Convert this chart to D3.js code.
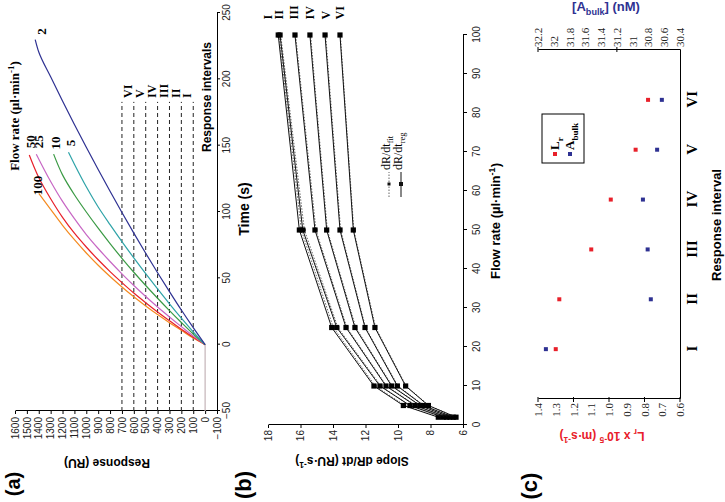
<!DOCTYPE html>
<html><head><meta charset="utf-8">
<script src="https://cdn.jsdelivr.net/npm/d3@7"></script>
<style>
html,body{margin:0;padding:0;background:#fff;}
svg{display:block;}
</style></head><body>
<svg id="chart" width="725" height="502"></svg>
<script>
// ===================== DATA =====================
// Panel (a): response curves (time s, response RU) per flow rate (µl/min)
const flowNamesA = ["100", "50", "25", "10", "5", "2"];
const flowColorsA = ["#f58a1f", "#e8202a", "#c766c4", "#3a9a44", "#2ea3a8", "#2e3192"];
const timeF100 = [0, 5, 10.8, 16.6, 22.7, 29.2, 36.1, 43.5, 51.4, 59.9, 69.1, 79.1, 90, 102, 114];
const respF100 = [0, 100, 200, 300, 400, 500, 600, 700, 800, 900, 1000, 1100, 1200, 1300, 1400];
const timeF50 = [0, 5.5, 11.7, 18.0, 24.6, 31.6, 38.9, 46.8, 55.1, 64.0, 73.6, 84, 96, 110, 126, 143];
const respF50 = [0, 100, 200, 300, 400, 500, 600, 700, 800, 900, 1000, 1100, 1200, 1300, 1400, 1480];
const timeF25 = [0, 6.5, 13.6, 20.9, 28.4, 36.3, 44.6, 53.4, 62.7, 72.5, 83, 95, 108, 123, 143.6];
const respF25 = [0, 100, 200, 300, 400, 500, 600, 700, 800, 900, 1000, 1100, 1200, 1300, 1421];
const timeF10 = [0, 8, 16.7, 25.7, 35.0, 44.6, 54.6, 65.1, 76.2, 87.8, 100, 113, 128, 143.6];
const respF10 = [0, 100, 200, 300, 400, 500, 600, 700, 800, 900, 1000, 1100, 1200, 1275];
const timeF5 = [0, 9.7, 20.0, 30.8, 42.0, 53.5, 65.4, 77.7, 90.5, 103.8, 119, 136, 145];
const respF5 = [0, 100, 200, 300, 400, 500, 600, 700, 800, 900, 1000, 1100, 1150];
const timeF2 = [0, 12.8, 26.1, 40.0, 54.2, 68.9, 84.1, 99.6, 115.6, 132, 148.8, 166, 183.7, 201.9, 220.6, 230];
const respF2 = [0, 100, 200, 300, 400, 500, 600, 700, 800, 900, 1000, 1100, 1200, 1300, 1400, 1430];
const baseTime = [-50, 0];
const baseResp = [0, 0];
// flow-rate label anchor points (time, response)
const flowLabelTime = [120, 153, 153, 152, 152, 236];
const flowLabelResp = [1415, 1474, 1406, 1263, 1137, 1381];
const timeTicksA = [-50, 0, 50, 100, 150, 200, 250];
const respTicksA = [-100, 0, 100, 200, 300, 400, 500, 600, 700, 800, 900, 1000, 1100, 1200, 1300, 1400, 1500, 1600];
const intervalLevels = [100, 200, 300, 400, 500, 600, 700];
const intervalMids = [150, 250, 350, 450, 550, 650];
const intervalNames = ["I", "II", "III", "IV", "V", "VI"];
const dashEndTime = 183;
const intervalLabelTime = 186;

// Panel (b): slope dR/dt (RU/s) vs flow rate, per response interval
const flowRatesB = [2, 5, 10, 25, 50, 100];
const slopeReg = [
  [7.52, 9.67, 11.48, 14.08, 16.07, 17.37],
  [7.22, 9.26, 11.11, 13.77, 15.86, 17.26],
  [7.00, 8.95, 10.74, 13.20, 15.11, 16.34],
  [6.80, 8.65, 10.39, 12.65, 14.39, 15.42],
  [6.60, 8.44, 10.04, 12.03, 13.57, 14.49],
  [6.43, 8.13, 9.53, 11.42, 12.75, 13.57]
];
const slopeFit = [
  [7.45, 9.58, 11.40, 13.98, 15.95, 17.32],
  [7.18, 9.30, 11.05, 13.70, 15.76, 17.22],
  [6.97, 8.90, 10.70, 13.15, 15.05, 16.30],
  [6.78, 8.62, 10.35, 12.60, 14.35, 15.38],
  [6.58, 8.40, 10.00, 12.00, 13.53, 14.45],
  [6.42, 8.10, 9.50, 11.38, 12.72, 13.55]
];
const flowTicksB = [0, 10, 20, 30, 40, 50, 60, 70, 80, 90, 100];
const slopeTicksB = [6, 8, 10, 12, 14, 16, 18];
const intervalLabelSlopeB = [18.0, 17.32, 16.4, 15.42, 14.43, 13.57];
const intervalLabelFlowB = 104;

// Panel (c): mass transport coefficient and bulk concentration per interval
const lrValues = [1.30, 1.28, 1.10, 0.99, 0.85, 0.78];
const abulkValues = [32.10, 30.77, 30.81, 30.87, 30.69, 30.63];
const lrTicks = [0.6, 0.7, 0.8, 0.9, 1.0, 1.1, 1.2, 1.3, 1.4];
const lrMajorTicks = [0.6, 0.8, 1.0, 1.2, 1.4];
const abulkTicks = [30.4, 30.6, 30.8, 31, 31.2, 31.4, 31.6, 31.8, 32, 32.2];
const abulkMajorTicks = [31.2, 32.2];

// ===================== DRAWING =====================
const SANS = "'Liberation Sans', Arial, sans-serif";
const SERIF = "'Liberation Serif', 'Times New Roman', serif";
const RED = "#e8202a", BLUE = "#2e3192";

const svg = d3.select("#chart");
// whole figure is rotated 90° counter-clockwise
const root = svg.append("g").attr("transform", "translate(0,502) rotate(-90)");

function rich(sel, parts, fs) {
  let off = 0;
  parts.forEach(p => {
    const target = p.sub ? fs * 0.28 : (p.sup ? -fs * 0.4 : 0);
    const ts = sel.append("tspan").text(p.t);
    if (p.sub || p.sup) ts.attr("font-size", fs * 0.7);
    if (target !== off) ts.attr("dy", target - off);
    off = target;
  });
  return sel;
}
function styleAxis(g, family, size, color) {
  g.attr("font-family", family).attr("font-size", size);
  g.selectAll("path.domain").attr("stroke", "#000").attr("stroke-width", 1);
  g.selectAll(".tick line").attr("stroke", "#000");
  g.selectAll("text").attr("fill", color || "#222");
}

// ---------- Panel (a) ----------
const gA = root.append("g");
const xA = d3.scaleLinear().domain([-50, 250]).range([91, 489]);
const yA = d3.scaleLinear().domain([-100, 1600]).range([217, 15]);

gA.append("g").attr("transform", "translate(0,217)")
  .call(d3.axisBottom(xA).tickValues(timeTicksA).tickFormat(d3.format("d")).tickSize(3).tickPadding(3).tickSizeOuter(0))
  .call(g => styleAxis(g, SANS, 10));
gA.append("g").attr("transform", "translate(91,0)")
  .call(d3.axisLeft(yA).tickValues(respTicksA).tickFormat(d3.format("d")).tickSize(3).tickPadding(3).tickSizeOuter(0))
  .call(g => styleAxis(g, SANS, 10));

gA.selectAll("line.dash").data(intervalLevels).join("line")
  .attr("x1", xA(-50)).attr("x2", xA(dashEndTime))
  .attr("y1", d => yA(d)).attr("y2", d => yA(d))
  .attr("stroke", "#222").attr("stroke-width", 1).attr("stroke-dasharray", "4,3");

const lineA = d3.line().x(d => xA(d[0])).y(d => yA(d[1])).curve(d3.curveMonotoneX);
gA.append("path").datum(d3.zip(baseTime, baseResp)).attr("d", lineA)
  .attr("fill", "none").attr("stroke", "#c4b4b8").attr("stroke-width", 1.2);
const curvesA = [
  d3.zip(timeF100, respF100), d3.zip(timeF50, respF50), d3.zip(timeF25, respF25),
  d3.zip(timeF10, respF10), d3.zip(timeF5, respF5), d3.zip(timeF2, respF2)
];
curvesA.forEach((c, i) => {
  gA.append("path").datum(c).attr("d", lineA).attr("fill", "none")
    .attr("stroke", flowColorsA[i]).attr("stroke-width", 1.2);
});
flowNamesA.forEach((n, i) => {
  gA.append("text").attr("x", xA(flowLabelTime[i])).attr("y", yA(flowLabelResp[i]))
    .attr("dy", "0.35em").attr("text-anchor", "middle")
    .attr("font-family", SERIF).attr("font-weight", "bold").attr("font-size", 13)
    .text(n);
});
intervalNames.forEach((n, i) => {
  gA.append("text").attr("x", xA(intervalLabelTime)).attr("y", yA(intervalMids[i]))
    .attr("dy", "0.35em").attr("text-anchor", "start")
    .attr("font-family", SERIF).attr("font-weight", "bold").attr("font-size", 12)
    .text(n);
});
rich(gA.append("text").attr("x", 386).attr("y", 19).attr("text-anchor", "middle")
  .attr("font-family", SERIF).attr("font-weight", "bold").attr("font-size", 13),
  [{t: "Flow rate (µl·min"}, {t: "-1", sup: true}, {t: ")"}], 13);
gA.append("text").attr("x", 405).attr("y", 211).attr("text-anchor", "middle")
  .attr("font-family", SANS).attr("font-weight", "bold").attr("font-size", 12)
  .text("Response intervals");
gA.append("text").attr("x", 293).attr("y", 249).attr("text-anchor", "middle")
  .attr("font-family", SANS).attr("font-weight", "bold").attr("font-size", 14)
  .text("Time (s)");
gA.append("text").attr("transform", "translate(43,107) rotate(-90)").attr("text-anchor", "middle")
  .attr("font-family", SANS).attr("font-weight", "bold").attr("font-size", 12)
  .text("Response (RU)");
gA.append("text").attr("x", 18).attr("y", 20).attr("text-anchor", "middle")
  .attr("font-family", SANS).attr("font-weight", "bold").attr("font-size", 20).text("(a)");

// ---------- Panel (b) ----------
const gB = root.append("g");
const xB = d3.scaleLinear().domain([0, 100]).range([77, 467]);
const yB = d3.scaleLinear().domain([6, 18]).range([463, 268]);
gB.append("g").attr("transform", "translate(0,463)")
  .call(d3.axisBottom(xB).tickValues(flowTicksB).tickSize(4).tickPadding(6).tickSizeOuter(0))
  .call(g => styleAxis(g, SANS, 10));
gB.append("g").attr("transform", "translate(77,0)")
  .call(d3.axisLeft(yB).tickValues(slopeTicksB).tickSize(3).tickPadding(2).tickSizeOuter(0))
  .call(g => styleAxis(g, SANS, 10));

const lineB = d3.line().x(d => xB(d[0])).y(d => yB(d[1]));
slopeFit.forEach(vals => {
  const pts = d3.zip(flowRatesB, vals);
  gB.append("path").datum(pts).attr("d", lineB).attr("fill", "none")
    .attr("stroke", "#666").attr("stroke-width", 1).attr("stroke-dasharray", "1.5,1.5");
  gB.selectAll(null).data(pts).join("rect")
    .attr("x", d => xB(d[0]) - 1.5).attr("y", d => yB(d[1]) - 1.5)
    .attr("width", 3).attr("height", 3).attr("fill", "#444");
});
slopeReg.forEach(vals => {
  const pts = d3.zip(flowRatesB, vals);
  gB.append("path").datum(pts).attr("d", lineB).attr("fill", "none")
    .attr("stroke", "#111").attr("stroke-width", 1);
  gB.selectAll(null).data(pts).join("rect")
    .attr("x", d => xB(d[0]) - 2.6).attr("y", d => yB(d[1]) - 2.6)
    .attr("width", 5.2).attr("height", 5.2).attr("fill", "#000");
});
intervalNames.forEach((n, i) => {
  gB.append("text").attr("x", xB(intervalLabelFlowB)).attr("y", yB(intervalLabelSlopeB[i]))
    .attr("dy", "0.35em").attr("text-anchor", "start")
    .attr("font-family", SERIF).attr("font-weight", "bold").attr("font-size", 12).text(n);
});
// legend (b)
[{y: 389, dash: "1.5,1.5", ms: 3, sub: "fit", col: "#666"}, {y: 401, dash: null, ms: 4, sub: "reg", col: "#111"}].forEach(l => {
  gB.append("line").attr("x1", 305).attr("x2", 330).attr("y1", l.y).attr("y2", l.y)
    .attr("stroke", l.col).attr("stroke-width", 1).attr("stroke-dasharray", l.dash);
  gB.append("rect").attr("x", 318 - l.ms / 2).attr("y", l.y - l.ms / 2)
    .attr("width", l.ms).attr("height", l.ms).attr("fill", "#111");
  rich(gB.append("text").attr("x", 332).attr("y", l.y + 1)
    .attr("font-family", SERIF).attr("font-size", 12),
    [{t: "dR/dt"}, {t: l.sub, sub: true}], 12);
});
rich(gB.append("text").attr("x", 281).attr("y", 500).attr("text-anchor", "middle")
  .attr("font-family", SANS).attr("font-weight", "bold").attr("font-size", 13),
  [{t: "Flow rate (µl·min"}, {t: "-1", sup: true}, {t: ")"}], 13);
rich(gB.append("text").attr("transform", "translate(45,352) rotate(-90)").attr("text-anchor", "middle")
  .attr("font-family", SANS).attr("font-weight", "bold").attr("font-size", 12),
  [{t: "Slope dR/dt (RU·s"}, {t: "-1", sup: true}, {t: ")"}], 12);
gB.append("text").attr("x", 17).attr("y", 251).attr("text-anchor", "middle")
  .attr("font-family", SANS).attr("font-weight", "bold").attr("font-size", 22).text("(b)");

// ---------- Panel (c) ----------
const gC = root.append("g");
const xC = d3.scalePoint().domain(intervalNames).range([103, 452]).padding(1);
const yL = d3.scaleLinear().domain([0.6, 1.4]).range([680, 538]);
const yAb = d3.scaleLinear().domain([30.4, 32.2]).range([680, 538]);

gC.append("g").attr("transform", "translate(0,680)")
  .call(d3.axisBottom(xC).tickSize(0).tickPadding(6).tickSizeOuter(0))
  .call(g => { styleAxis(g, SERIF, 15, "#000"); g.selectAll("text").attr("font-weight", "bold"); });
gC.append("g").attr("transform", "translate(103,0)")
  .call(d3.axisLeft(yL).tickValues(lrTicks).tickFormat(d3.format(".1f")).tickSize(0).tickPadding(4).tickSizeOuter(0))
  .call(g => styleAxis(g, SERIF, 11, "#222"));
gC.selectAll("line.lrtick").data(lrMajorTicks).join("line")
  .attr("x1", 100).attr("x2", 105).attr("y1", d => yL(d)).attr("y2", d => yL(d)).attr("stroke", "#000");
gC.append("g").attr("transform", "translate(452,0)")
  .call(d3.axisRight(yAb).tickValues(abulkTicks).tickFormat(d => String(d)).tickSize(0).tickPadding(3).tickSizeOuter(0))
  .call(g => styleAxis(g, SERIF, 11, "#222"));
gC.selectAll("line.abtick").data(abulkMajorTicks).join("line")
  .attr("x1", 450).attr("x2", 455).attr("y1", d => yAb(d)).attr("y2", d => yAb(d)).attr("stroke", "#000");

gC.selectAll("rect.lr").data(lrValues).join("rect")
  .attr("x", (d, i) => xC(intervalNames[i]) - 2).attr("y", d => yL(d) - 2)
  .attr("width", 4).attr("height", 4).attr("fill", RED);
gC.selectAll("rect.ab").data(abulkValues).join("rect")
  .attr("x", (d, i) => xC(intervalNames[i]) - 2).attr("y", d => yAb(d) - 2)
  .attr("width", 4).attr("height", 4).attr("fill", BLUE);

// legend (c)
gC.append("rect").attr("x", 339).attr("y", 542).attr("width", 49).attr("height", 42)
  .attr("fill", "#fff").attr("stroke", "#000").attr("stroke-width", 1);
gC.append("rect").attr("x", 346).attr("y", 553).attr("width", 4).attr("height", 4).attr("fill", RED);
gC.append("rect").attr("x", 346).attr("y", 568).attr("width", 4).attr("height", 4).attr("fill", BLUE);
rich(gC.append("text").attr("x", 352).attr("y", 559).attr("font-family", SERIF)
  .attr("font-weight", "bold").attr("font-size", 13), [{t: "L"}, {t: "r", sub: true}], 13);
rich(gC.append("text").attr("x", 352).attr("y", 574).attr("font-family", SERIF)
  .attr("font-weight", "bold").attr("font-size", 13), [{t: "A"}, {t: "bulk", sub: true}], 13);

gC.append("text").attr("x", 277).attr("y", 721).attr("text-anchor", "middle")
  .attr("font-family", SANS).attr("font-weight", "bold").attr("font-size", 13)
  .text("Response interval");
rich(gC.append("text").attr("transform", "translate(70,602) rotate(-90)").attr("text-anchor", "middle")
  .attr("font-family", SANS).attr("font-weight", "bold").attr("font-size", 12).attr("fill", RED),
  [{t: "L"}, {t: "r", sub: true}, {t: " x 10"}, {t: "-5", sup: true}, {t: " (m·s"}, {t: "-1", sup: true}, {t: ")"}], 12);
rich(gC.append("text").attr("transform", "translate(491,606) rotate(90)").attr("text-anchor", "middle")
  .attr("font-family", SANS).attr("font-weight", "bold").attr("font-size", 13).attr("fill", BLUE),
  [{t: "[A"}, {t: "bulk", sub: true}, {t: "] (nM)"}], 13);
gC.append("text").attr("x", 16).attr("y", 537).attr("text-anchor", "middle")
  .attr("font-family", SANS).attr("font-weight", "bold").attr("font-size", 22).text("(c)");
</script>
</body></html>
